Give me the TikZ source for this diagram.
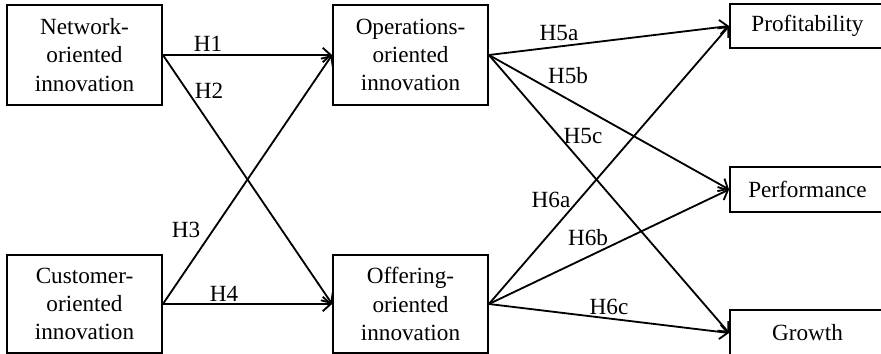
\documentclass[tikz,border=0pt]{standalone}
\usepackage{fontspec}
\setmainfont{Liberation Serif}
\usetikzlibrary{arrows.meta}

\tikzstyle{construct}=[draw,line width=1.3pt,inner sep=0pt,align=center,
    minimum width=38.75mm,minimum height=25mm,
    font=\fontsize{16.5}{20.2}\selectfont]
\tikzstyle{outcome}=[construct,minimum height=11.25mm]
\tikzstyle{hypothesis}=[inner sep=0pt,font=\fontsize{16.5}{20}\selectfont]
\tikzstyle{link}=[line width=1.3pt,-{Straight Barb[length=2mm,width=3.6mm]}]
\newcommand{\link}[2]{\draw[link] (#1) -- (#2);}

\begin{document}
\begin{tikzpicture}[x=0.25mm,y=-0.25mm]
    \useasboundingbox (0,0) rectangle (881,354);
    % antecedents
    \node[construct] (network) at (84.5,55) {Network-\\oriented\\innovation};
    \node[construct,minimum height=24.5mm] (customer) at (84.5,304)
        {Customer-\\oriented\\innovation};
    % mediators
    \node[construct] (operations) at (410.5,55) {Operations-\\oriented\\innovation};
    \node[construct,minimum height=24.5mm] (offering) at (410.5,304)
        {Offering-\\oriented\\innovation};
    % outcomes
    \node[outcome,minimum height=11mm] (profit) at (807.5,26) {Profitability};
    \node[outcome] (perform) at (807.5,189.5) {Performance};
    \node[outcome,minimum height=11.5mm] (growth) at (807.5,333) {Growth};
    %
    \link{network.east}{operations.west}
    \link{network.east}{offering.west}
    \link{customer.east}{operations.west}
    \link{customer.east}{offering.west}
    \link{operations.east}{profit.west}
    \link{operations.east}{perform.west}
    \link{operations.east}{growth.west}
    \link{offering.east}{profit.west}
    \link{offering.east}{perform.west}
    \link{offering.east}{growth.west}
    %
    \node[hypothesis] (h1) at (208,44) {H1};
    \node[hypothesis] (h2) at (209,91) {H2};
    \node[hypothesis] (h3) at (186,230) {H3};
    \node[hypothesis] (h4) at (224,294) {H4};
    \node[hypothesis] (h5a) at (559,33) {H5a};
    \node[hypothesis] (h5b) at (568,76) {H5b};
    \node[hypothesis] (h5c) at (583,136) {H5c};
    \node[hypothesis] (h6a) at (551,200) {H6a};
    \node[hypothesis] (h6b) at (588,238) {H6b};
    \node[hypothesis] (h6c) at (609,307) {H6c};
\end{tikzpicture}
\end{document}
